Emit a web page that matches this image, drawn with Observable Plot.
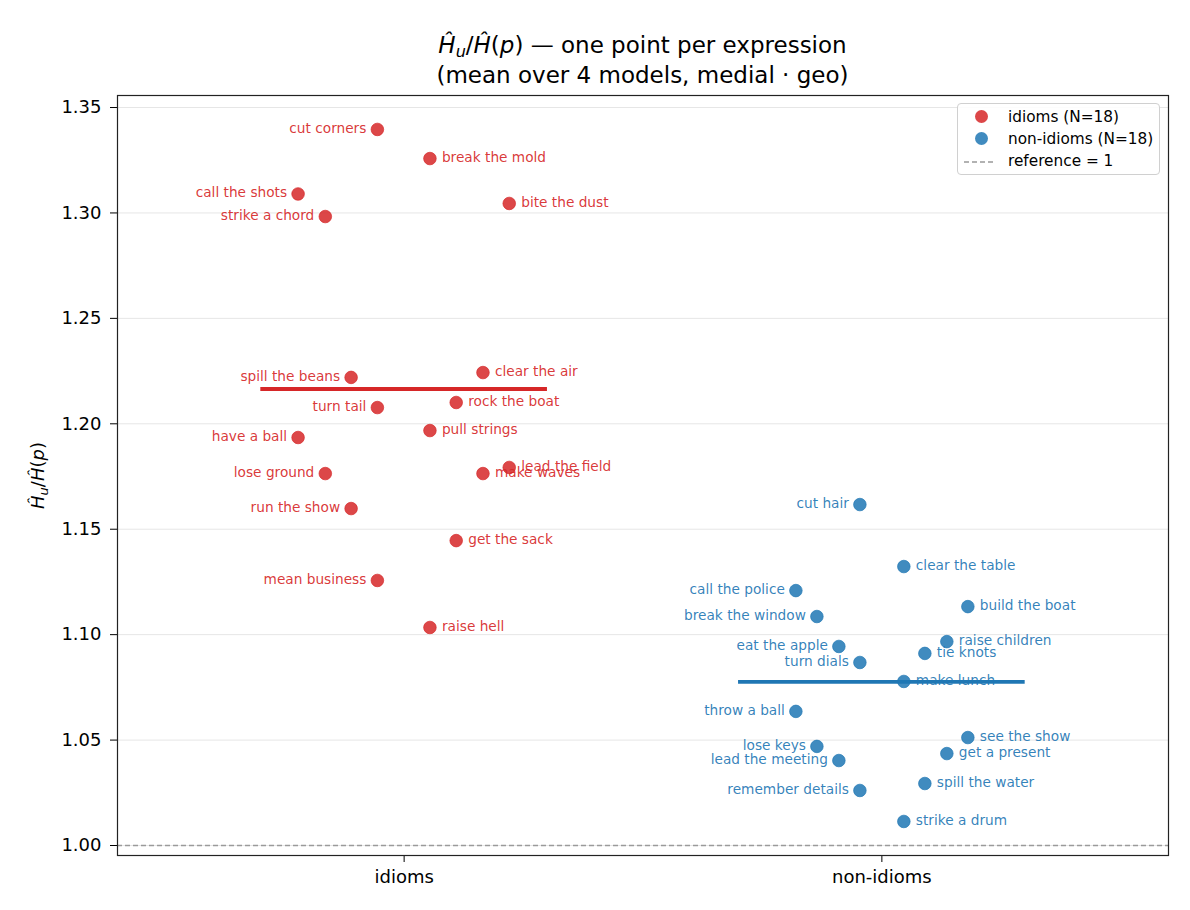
<!DOCTYPE html>
<html>
<head>
<meta charset="utf-8">
<script src="https://cdn.jsdelivr.net/npm/d3@7"></script>
<script src="https://cdn.jsdelivr.net/npm/@observablehq/plot@0.6"></script>
<style>
  body { margin: 0; background: #fff; font-family: "DejaVu Sans", sans-serif; }
  #wrap { position: relative; width: 1190px; height: 910px; }
  #title { height: 90px; box-sizing: border-box; padding-top: 30px; padding-left: 117px; padding-right: 22px;
           text-align: center; font-size: 23px; line-height: 30px; color: #000; }
  #title sub { font-size: 16px; line-height: 0; vertical-align: -4px; }
  #legend { position: absolute; left: 957px; top: 103px; width: 203px; height: 72px; box-sizing: border-box;
            border: 1px solid #d0d0d0; border-radius: 4px; background: rgba(255,255,255,0.85); font-size: 15.3px; }
  .row { position: absolute; left: 0; height: 22px; line-height: 22px; }
  .row span.t { position: absolute; left: 50px; white-space: nowrap; }
  .dot { position: absolute; left: 17px; top: 4px; width: 13px; height: 13px; border-radius: 50%; }
  .dash { position: absolute; left: 5px; top: 10px; }
</style>
</head>
<body>
<div id="wrap">
  <div id="title"><i>Ĥ</i><sub><i>u</i></sub>/<i>Ĥ</i>(<i>p</i>) — one point per expression<br>(mean over 4 models, medial · geo)</div>
  <div id="chart"></div>
  <div id="legend">
    <div class="row" style="top:2px"><div class="dot" style="background:#d62728;opacity:0.85"></div><span class="t">idioms (N=18)</span></div>
    <div class="row" style="top:24px"><div class="dot" style="background:#1f77b4;opacity:0.85"></div><span class="t">non-idioms (N=18)</span></div>
    <div class="row" style="top:46px"><svg class="dash" width="32" height="4"><line x1="1" y1="2" x2="31" y2="2" stroke="#999" stroke-width="1.4" stroke-dasharray="5,3"/></svg><span class="t">reference = 1</span></div>
  </div>
</div>
<script>
// ---- data ----
const groups = ["idioms", "non-idioms"];
const groupColors = ["#d62728", "#1f77b4"];

const idiomLabels = ["cut corners", "break the mold", "call the shots", "strike a chord", "bite the dust",
  "spill the beans", "clear the air", "turn tail", "rock the boat", "pull strings", "have a ball",
  "lose ground", "make waves", "lead the field", "run the show", "get the sack", "mean business", "raise hell"];
const idiomValues = [1.3396, 1.3258, 1.3090, 1.2983, 1.3045,
  1.2220, 1.2243, 1.2077, 1.2101, 1.1968, 1.1935,
  1.1764, 1.1764, 1.1793, 1.1598, 1.1446, 1.1257, 1.1034];
const idiomJitter = [-0.056, 0.054, -0.222, -0.165, 0.220,
  -0.111, 0.165, -0.056, 0.109, 0.054, -0.222,
  -0.165, 0.165, 0.220, -0.111, 0.109, -0.056, 0.054];

const nonIdiomLabels = ["cut hair", "clear the table", "call the police", "build the boat", "break the window",
  "raise children", "eat the apple", "tie knots", "turn dials", "make lunch", "throw a ball",
  "see the show", "lose keys", "get a present", "lead the meeting", "spill the water", "remember details", "strike a drum"];
const nonIdiomValues = [1.1617, 1.1323, 1.1209, 1.1133, 1.1086,
  1.0967, 1.0944, 1.0911, 1.0868, 1.0778, 1.0636,
  1.0512, 1.0470, 1.0436, 1.0403, 1.0294, 1.0261, 1.0114];
const nonIdiomJitter = [-0.046, 0.046, -0.180, 0.180, -0.136,
  0.136, -0.090, 0.090, -0.046, 0.046, -0.180,
  0.180, -0.136, 0.136, -0.090, 0.090, -0.046, 0.046];

const yTicks = [1.00, 1.05, 1.10, 1.15, 1.20, 1.25, 1.30, 1.35];

// ---- build table ----
const points = [];
idiomLabels.forEach((l, i) => points.push({label: l, value: idiomValues[i], x: 0 + idiomJitter[i], off: idiomJitter[i], color: groupColors[0]}));
nonIdiomLabels.forEach((l, i) => points.push({label: l, value: nonIdiomValues[i], x: 1 + nonIdiomJitter[i], off: nonIdiomJitter[i], color: groupColors[1]}));
const means = [
  {pos: 0, mean: d3.mean(idiomValues), color: groupColors[0]},
  {pos: 1, mean: d3.mean(nonIdiomValues), color: groupColors[1]}
];

const chart = Plot.plot({
  width: 1190, height: 820,
  marginTop: 5, marginBottom: 55, marginLeft: 117, marginRight: 22,
  style: {fontFamily: "DejaVu Sans", fontSize: "14px", color: "#000", background: "white", overflow: "visible"},
  x: {domain: [-0.6, 1.6]},
  y: {domain: [0.99526, 1.3557]},
  color: {type: "identity"},
  marks: [
    Plot.gridY(yTicks, {stroke: "#e6e6e6", strokeOpacity: 1, strokeWidth: 1}),
    Plot.ruleY([1], {stroke: "#9a9a9a", strokeDasharray: "5,3", strokeWidth: 1.3}),
    Plot.ruleY(means, {y: "mean", x1: d => d.pos - 0.3, x2: d => d.pos + 0.3, stroke: "color", strokeWidth: 3.8}),
    Plot.dot(points, {x: "x", y: "value", r: 6.3, fill: "color", fillOpacity: 0.85, stroke: "color", strokeOpacity: 0.85, strokeWidth: 0.8}),
    Plot.text(points.filter(d => d.off < 0), {x: "x", y: "value", text: "label", fill: "color", fillOpacity: 0.92, textAnchor: "end", dx: -11, dy: -1, fontSize: 13.7}),
    Plot.text(points.filter(d => d.off > 0), {x: "x", y: "value", text: "label", fill: "color", fillOpacity: 0.92, textAnchor: "start", dx: 12, dy: -1, fontSize: 13.7}),
    Plot.axisX({ticks: [0, 1], tickFormat: d => groups[d], tickSize: 7, tickPadding: 8, fontSize: 18, label: null}),
    Plot.axisY({ticks: yTicks, tickFormat: d3.format(".2f"), tickSize: 7, tickPadding: 9, fontSize: 18, label: null}),
    Plot.text(["YLABEL"], {frameAnchor: "left", textAnchor: "middle", dx: -79, rotate: -90, text: d => d, fontSize: 18, fill: "#000"}),
    Plot.frame({stroke: "#222", strokeWidth: 1.2})
  ]
});
document.getElementById("chart").appendChild(chart);

d3.select(chart).selectAll("text").filter(function() { return this.textContent === "YLABEL"; })
  .html('<tspan font-style="italic">Ĥ</tspan><tspan font-style="italic" font-size="13" baseline-shift="-4">u</tspan><tspan>/</tspan><tspan font-style="italic">Ĥ</tspan><tspan>(</tspan><tspan font-style="italic">p</tspan><tspan>)</tspan>');
</script>
</body>
</html>
